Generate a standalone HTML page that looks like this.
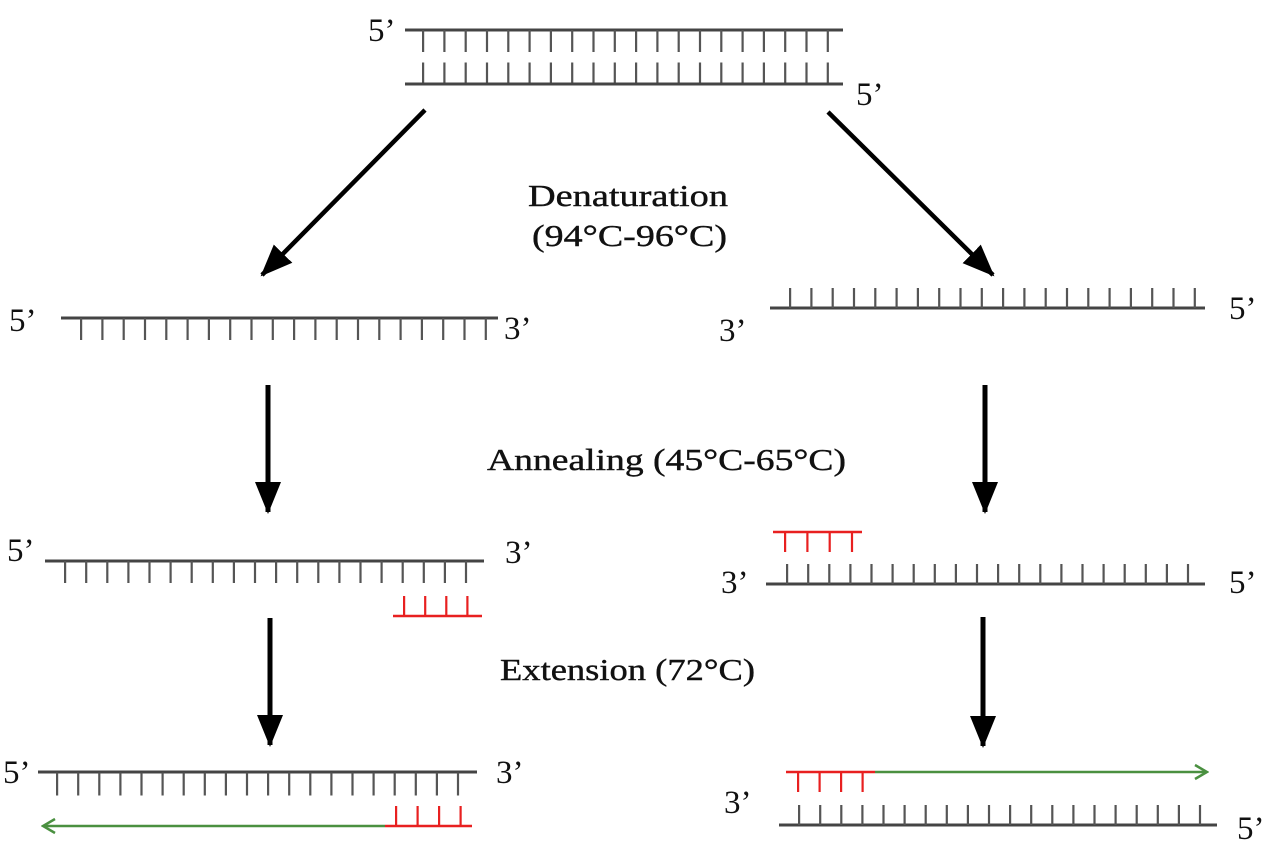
<!DOCTYPE html>
<html><head><meta charset="utf-8"><style>html,body{margin:0;padding:0;background:#fff}svg{display:block}text{font-family:"Liberation Serif",serif;fill:#111}</style></head>
<body>
<svg width="1275" height="847" viewBox="0 0 1275 847" xmlns="http://www.w3.org/2000/svg">
<defs>
<marker id="ah" markerUnits="userSpaceOnUse" markerWidth="32" markerHeight="32" viewBox="0 0 32 32" refX="30" refY="16" orient="auto"><path d="M0,3 L32,16 L0,29 Z" fill="#000"/></marker>
<marker id="gh" markerUnits="userSpaceOnUse" markerWidth="20" markerHeight="20" viewBox="0 0 20 20" refX="18" refY="10" orient="auto"><path d="M6,3 L18,10 L6,17" fill="none" stroke="#4a9040" stroke-width="2.5"/></marker>
</defs>
<g stroke="#444">
<line x1="405" y1="30" x2="843" y2="30" stroke-width="3"/>
<line x1="422" y1="41" x2="832" y2="41" stroke-width="22" stroke-dasharray="2.2 19.1" stroke="#555"/>
<line x1="422" y1="73" x2="832" y2="73" stroke-width="21" stroke-dasharray="2.2 19.1" stroke="#555"/>
<line x1="405" y1="84" x2="843" y2="84" stroke-width="3"/>
<line x1="61" y1="318" x2="498" y2="318" stroke-width="3"/>
<line x1="80" y1="329" x2="490" y2="329" stroke-width="22" stroke-dasharray="2.2 19.1" stroke="#555"/>
<line x1="770" y1="308" x2="1205" y2="308" stroke-width="3"/>
<line x1="789" y1="298" x2="1198" y2="298" stroke-width="20" stroke-dasharray="2.2 19.1" stroke="#555"/>
<line x1="45" y1="561" x2="484" y2="561" stroke-width="3"/>
<line x1="64" y1="572" x2="470" y2="572" stroke-width="22" stroke-dasharray="2.2 18.9" stroke="#555"/>
<line x1="766" y1="584" x2="1205" y2="584" stroke-width="3"/>
<line x1="786" y1="574" x2="1192" y2="574" stroke-width="20" stroke-dasharray="2.2 18.9" stroke="#555"/>
<line x1="38" y1="772" x2="477" y2="772" stroke-width="3"/>
<line x1="56" y1="784" x2="462" y2="784" stroke-width="23" stroke-dasharray="2.2 18.9" stroke="#555"/>
<line x1="779" y1="825" x2="1217" y2="825" stroke-width="3"/>
<line x1="798" y1="815" x2="1204" y2="815" stroke-width="20" stroke-dasharray="2.2 18.9" stroke="#555"/>
</g>
<g stroke="#e82020" stroke-width="2.5">
<line x1="393" y1="616" x2="482" y2="616"/>
<line x1="403" y1="606" x2="469" y2="606" stroke-width="20" stroke-dasharray="2.2 18.9"/>
<line x1="773" y1="532" x2="862" y2="532"/>
<line x1="784" y1="542" x2="855" y2="542" stroke-width="20" stroke-dasharray="2.2 20.1"/>
<line x1="385" y1="826" x2="472" y2="826"/>
<line x1="395" y1="816" x2="462" y2="816" stroke-width="20" stroke-dasharray="2.2 19.3"/>
<line x1="786" y1="772" x2="875" y2="772"/>
<line x1="797" y1="782" x2="866" y2="782" stroke-width="20" stroke-dasharray="2.2 19.3"/>
</g>
<g stroke="#4a9040" stroke-width="2.5">
<line x1="385" y1="826" x2="43" y2="826" marker-end="url(#gh)"/>
<line x1="875" y1="772" x2="1207" y2="772" marker-end="url(#gh)"/>
</g>
<g stroke="#000" stroke-width="4.5">
<line x1="425" y1="110" x2="262" y2="275" marker-end="url(#ah)"/>
<line x1="828" y1="112" x2="993" y2="275" marker-end="url(#ah)"/>
<line x1="268" y1="385" x2="268" y2="512" stroke-width="5" marker-end="url(#ah)"/>
<line x1="985" y1="385" x2="985" y2="512" stroke-width="5" marker-end="url(#ah)"/>
<line x1="270" y1="618" x2="270" y2="745" stroke-width="5" marker-end="url(#ah)"/>
<line x1="983" y1="617" x2="983" y2="746" stroke-width="5" marker-end="url(#ah)"/>
</g>
<g font-size="33">
<text x="368" y="41">5’</text>
<text x="856" y="105">5’</text>
<text x="9" y="331">5’</text>
<text x="504" y="339">3’</text>
<text x="719" y="341">3’</text>
<text x="1229" y="319">5’</text>
<text x="7" y="561">5’</text>
<text x="505" y="563">3’</text>
<text x="721" y="593">3’</text>
<text x="1229" y="593">5’</text>
<text x="3" y="783">5’</text>
<text x="496" y="783">3’</text>
<text x="724" y="813">3’</text>
<text x="1237" y="839">5’</text>
</g>
<g font-size="31" stroke="#111" stroke-width="0.4">
<text x="528" y="206" textLength="200" lengthAdjust="spacingAndGlyphs">Denaturation</text>
<text x="532" y="246" textLength="195" lengthAdjust="spacingAndGlyphs">(94°C-96°C)</text>
<text x="487" y="470" textLength="359" lengthAdjust="spacingAndGlyphs">Annealing (45°C-65°C)</text>
<text x="500" y="680" textLength="255" lengthAdjust="spacingAndGlyphs">Extension (72°C)</text>
</g>
</svg>
</body></html>
